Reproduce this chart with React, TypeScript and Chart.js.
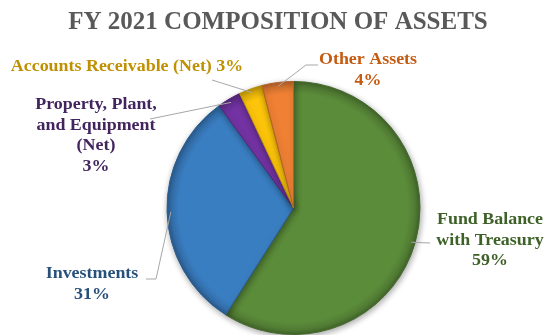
import React, { useEffect, useRef } from "react";
import { Chart, registerables } from "chart.js";

Chart.register(...registerables);

// Asset categories and their share of total assets (%)
const categories = [
  "Fund Balance with Treasury",
  "Investments",
  "Property, Plant, and Equipment (Net)",
  "Accounts Receivable (Net)",
  "Other Assets",
];
const shares = [59, 31, 3, 3, 4];
const sliceColors = ["#5b8c3a", "#3a7ec2", "#7333a3", "#fcc40a", "#ef8034"];
const labelColors = ["#3e6127", "#27507a", "#42245f", "#bf9000", "#c55a11"];
// Label text as it breaks over lines
const labelLines = [
  ["Fund Balance", "with Treasury"],
  ["Investments"],
  ["Property, Plant,", "and Equipment", "(Net)"],
  ["Accounts Receivable (Net)"],
  ["Other Assets"],
];
const percentInline = [false, false, false, true, false];
const chartTitle = "FY 2021 COMPOSITION OF ASSETS";

// Where each label sits and the bend points of its leader line
const labelLayout = [
  { cx: 490, y: 220, leader: [[430, 243]] },
  { cx: 92, y: 274, leader: [[146, 279], [156, 279]] },
  { cx: 96, y: 105, leader: [[150, 119]] },
  { cx: 127, y: 67, leader: [[212, 80]] },
  { cx: 368, y: 60, leader: [[318, 65], [306, 65]] },
];

const FONT = "'Liberation Serif', 'DejaVu Serif', serif";
const TEXT_STRETCH = 1.12;

function shade(hex: string, f: number) {
  const n = parseInt(hex.slice(1), 16);
  const c = [(n >> 16) & 255, (n >> 8) & 255, n & 255].map((v) =>
    Math.max(0, Math.min(255, Math.round(f < 0 ? v * (1 + f) : v + (255 - v) * f)))
  );
  return `rgb(${c[0]},${c[1]},${c[2]})`;
}

function stretchedText(ctx: CanvasRenderingContext2D, t: string, x: number, y: number) {
  ctx.save();
  ctx.translate(x, y);
  ctx.scale(TEXT_STRETCH, 1);
  ctx.fillText(t, 0, 0);
  ctx.restore();
}

const labelsPlugin = {
  id: "sliceLabels",
  beforeDatasetsDraw(chart: any) {
    const ctx = chart.ctx;
    ctx.save();
    ctx.shadowColor = "rgba(0,0,0,0.35)";
    ctx.shadowBlur = 6;
    ctx.shadowOffsetX = 1;
    ctx.shadowOffsetY = 2;
  },
  afterDatasetsDraw(chart: any) {
    const ctx = chart.ctx;
    ctx.restore();
    const meta = chart.getDatasetMeta(0);
    ctx.save();
    ctx.textAlign = "center";
    ctx.textBaseline = "middle";
    meta.data.forEach((arc: any, i: number) => {
      const lay = labelLayout[i];
      const mid = (arc.startAngle + arc.endAngle) / 2;
      const r = arc.outerRadius * 0.97;
      const ax = arc.x + Math.cos(mid) * r;
      const ay = arc.y + Math.sin(mid) * r;
      // leader line
      ctx.strokeStyle = "#a6a6a6";
      ctx.lineWidth = 1;
      ctx.beginPath();
      lay.leader.forEach((p: number[], k: number) => (k === 0 ? ctx.moveTo(p[0], p[1]) : ctx.lineTo(p[0], p[1])));
      ctx.lineTo(ax, ay);
      ctx.stroke();
      // text
      const pct = `${shares[i]}%`;
      const lines = percentInline[i]
        ? [`${labelLines[i].join(" ")} ${pct}`]
        : [...labelLines[i], pct];
      ctx.fillStyle = labelColors[i];
      ctx.font = `bold 16px ${FONT}`;
      lines.forEach((t, k) => stretchedText(ctx, t, lay.cx, lay.y + k * 20.5));
    });
    // title
    ctx.fillStyle = "#595959";
    ctx.font = `bold 25px ${FONT}`;
    ctx.fillText(chartTitle, 278, 23);
    ctx.restore();
  },
};

export default function App() {
  const ref = useRef<HTMLCanvasElement>(null);
  useEffect(() => {
    const canvas = ref.current!;
    const chart = new Chart(canvas, {
      type: "pie",
      data: {
        labels: categories,
        datasets: [
          {
            data: shares,
            backgroundColor: (c: any) => {
              const area = c.chart.chartArea;
              const base = sliceColors[c.dataIndex];
              if (!area) return base;
              const cx = (area.left + area.right) / 2;
              const cy = (area.top + area.bottom) / 2;
              const rr = Math.min(area.width, area.height) / 2;
              const g = c.chart.ctx.createRadialGradient(cx, cy, 0, cx, cy, rr);
              g.addColorStop(0, base);
              g.addColorStop(0.9, base);
              g.addColorStop(0.96, shade(base, -0.12));
              g.addColorStop(1, shade(base, -0.3));
              return g;
            },
            borderColor: sliceColors.map((c) => shade(c, -0.25)),
            borderWidth: 1,
          },
        ],
      },
      options: {
        responsive: false,
        animation: false,
        rotation: 0,
        layout: { padding: { left: 166, right: 131, top: 81, bottom: 0 } },
        plugins: {
          legend: { display: false },
          tooltip: { enabled: false },
          title: { display: false },
        },
      },
      plugins: [labelsPlugin],
    });
    return () => chart.destroy();
  }, []);
  return (
    <div style={{ position: "absolute", left: 0, top: 0, width: 552, height: 335, background: "#fff" }}>
      <canvas ref={ref} width={552} height={335} />
    </div>
  );
}
